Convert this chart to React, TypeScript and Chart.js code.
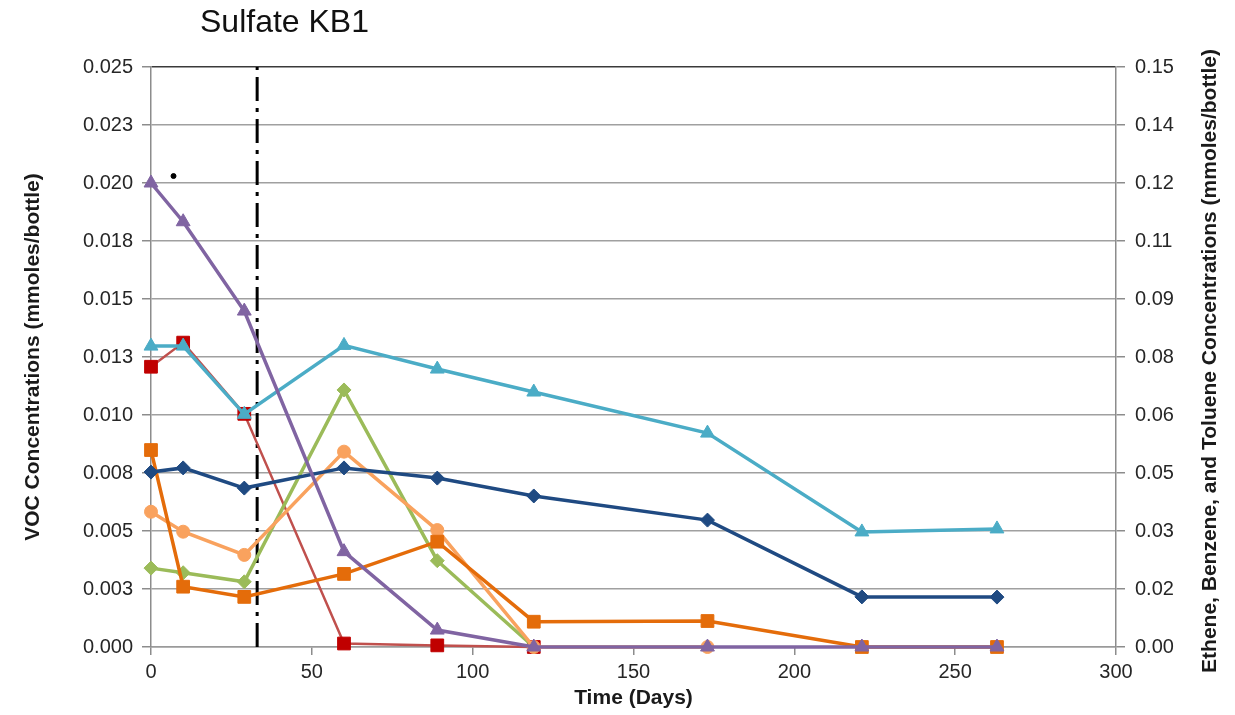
import React, { useEffect, useRef } from 'react';
import { Chart, registerables } from 'chart.js';

Chart.register(...registerables);

// ---- Data ----
const days = [0, 10, 29, 60, 89, 119, 173, 221, 263];
const darkBlueVals = [0.00754, 0.00772, 0.00685, 0.00772, 0.00728, 0.00651, 0.00547, 0.00216, 0.00215];
const redVals = [0.01208, 0.01312, 0.01005, 0.00015, 0.00007, 0];
const cyanVals = [0.01297, 0.01297, 0.01003, 0.013, 0.01198, 0.01099, 0.00922, 0.00496, 0.00509];
const purpleVals = [0.02, 0.01833, 0.01448, 0.00411, 0.00073, 0, 0, 0, 0];
const greenVals = [0.0034, 0.0032, 0.00281, 0.01108, 0.00372, 0];
const peachVals = [0.00583, 0.00497, 0.00397, 0.00842, 0.00504, 0, 0];
const orangeVals = [0.00849, 0.0026, 0.00216, 0.00315, 0.00454, 0.00109, 0.00112, 0, 0];
const markerLineDay = 33;
const strayDotDay = 7;
const strayDotVal = 0.0203;

const leftTickLabels = ['0.000', '0.003', '0.005', '0.008', '0.010', '0.013', '0.015', '0.018', '0.020', '0.023', '0.025'];
const rightTickLabels = ['0.00', '0.02', '0.03', '0.05', '0.06', '0.08', '0.09', '0.11', '0.12', '0.14', '0.15'];

const titleText = 'Sulfate KB1';
const xTitle = 'Time (Days)';
const leftTitle = 'VOC Concentrations (mmoles/bottle)';
const rightTitle = 'Ethene, Benzene, and Toluene Concentrations (mmoles/bottle)';

const pts = (vals: number[]) => vals.map((v, i) => ({ x: days[i], y: v }));

const series = (label: string, vals: number[], line: string, fill: string, style: string, radius: number, width = 3.5) => ({
  label,
  data: pts(vals),
  borderColor: line,
  backgroundColor: fill,
  pointBackgroundColor: fill,
  pointBorderColor: fill,
  pointStyle: style,
  pointRadius: radius,
  pointBorderWidth: 1,
  borderWidth: width,
  tension: 0,
  clip: false,
  yAxisID: 'y',
});

const rightTitlePlugin = {
  id: 'rightTitle',
  afterDraw(chart: any) {
    const ctx = chart.ctx;
    ctx.save();
    ctx.translate(1210, 361);
    ctx.rotate(-Math.PI / 2);
    ctx.font = 'bold 21px "Liberation Sans", Arial, sans-serif';
    ctx.fillStyle = '#1a1a1a';
    ctx.textAlign = 'center';
    ctx.textBaseline = 'middle';
    ctx.fillText(rightTitle, 0, 0);
    ctx.restore();
  },
};

export default function App() {
  const ref = useRef<HTMLCanvasElement>(null);
  useEffect(() => {
    const tickFont = { family: '"Liberation Sans", Arial, sans-serif', size: 20 };
    const titleFont = { family: '"Liberation Sans", Arial, sans-serif', size: 21, weight: 'bold' as const };
    const chart = new Chart(ref.current!, {
      type: 'line',
      data: {
        datasets: [
          series('Purple', purpleVals, '#8064A2', '#8064A2', 'triangle', 8),
          series('Cyan', cyanVals, '#4BACC6', '#4BACC6', 'triangle', 8),
          series('Blue', darkBlueVals, '#1F4A82', '#1F4A82', 'rectRot', 7),
          series('Orange', orangeVals, '#E46C0A', '#E46C0A', 'rect', 9),
          series('Peach', peachVals, '#F9A25E', '#F9A25E', 'circle', 6.5),
          series('Green', greenVals, '#9BBB59', '#9BBB59', 'rectRot', 7),
          series('Red', redVals, '#C0504D', '#C00000', 'rect', 9, 2.5),
          {
            label: 'Marker',
            data: [
              { x: markerLineDay, y: 0 },
              { x: markerLineDay, y: 0.025 },
            ],
            borderColor: '#000',
            borderWidth: 3,
            borderDash: [24, 7, 4, 7],
            pointRadius: 0,
            tension: 0,
            yAxisID: 'y',
          } as any,
          {
            label: 'Dot',
            data: [{ x: strayDotDay, y: strayDotVal }],
            showLine: false,
            pointRadius: 2.5,
            pointBackgroundColor: '#000',
            pointBorderColor: '#000',
            yAxisID: 'y',
          } as any,
        ],
      },
      options: {
        responsive: false,
        animation: false,
        layout: { padding: { top: 67, left: 0, right: 0, bottom: 0 } },
        plugins: {
          legend: { display: false },
          title: { display: false },
          tooltip: { enabled: false },
        },
        scales: {
          x: {
            type: 'linear',
            min: 0,
            max: 300,
            ticks: { stepSize: 50, font: tickFont, color: '#262626', padding: 5, maxRotation: 0 },
            grid: { drawOnChartArea: false, drawTicks: true, tickLength: 8, color: '#8c8c8c', lineWidth: 1.5 },
            border: { display: true, color: '#9a9a9a', width: 1.5 },
            title: { display: true, text: xTitle, font: titleFont, color: '#1a1a1a', padding: { top: 0, bottom: 4 } },
            afterFit: (s: any) => {
              s.height = 68;
            },
          },
          y: {
            type: 'linear',
            position: 'left',
            min: 0,
            max: 0.025,
            ticks: {
              stepSize: 0.0025,
              font: tickFont,
              color: '#262626',
              padding: 9,
              callback: (_v: any, i: number) => leftTickLabels[i],
            },
            grid: {
              color: (c: any) => (c.index === 10 ? '#3a3a3a' : '#a0a0a0'),
              lineWidth: 1.5,
              tickLength: 9,
              tickColor: '#8c8c8c',
            },
            border: { display: true, color: '#8c8c8c', width: 1.5 },
            title: { display: true, text: leftTitle, font: titleFont, color: '#1a1a1a', padding: { top: 21, bottom: 0 } },
            afterFit: (s: any) => {
              s.width = 151;
            },
          },
          y2: {
            type: 'linear',
            position: 'right',
            min: 0,
            max: 0.15,
            ticks: {
              stepSize: 0.015,
              font: tickFont,
              color: '#262626',
              padding: 10,
              callback: (_v: any, i: number) => rightTickLabels[i],
            },
            grid: { drawOnChartArea: false, tickLength: 9, color: '#8c8c8c', lineWidth: 1.5 },
            border: { display: true, color: '#8c8c8c', width: 1.5 },
            title: { display: false },
            afterFit: (s: any) => {
              s.width = 119;
            },
          },
        },
      },
      plugins: [rightTitlePlugin],
    } as any);
    return () => chart.destroy();
  }, []);

  return (
    <div style={{ position: 'absolute', left: 0, top: 0, width: 1235, height: 715, background: '#fff' }}>
      <canvas ref={ref} width={1235} height={715} style={{ position: 'absolute', left: 0, top: 0 }} />
      <div
        style={{
          position: 'absolute',
          left: 200,
          top: 5,
          font: '32px "Liberation Sans", Arial, sans-serif',
          lineHeight: '32px',
          color: '#111',
          whiteSpace: 'nowrap',
        }}
      >
        {titleText}
      </div>
    </div>
  );
}
